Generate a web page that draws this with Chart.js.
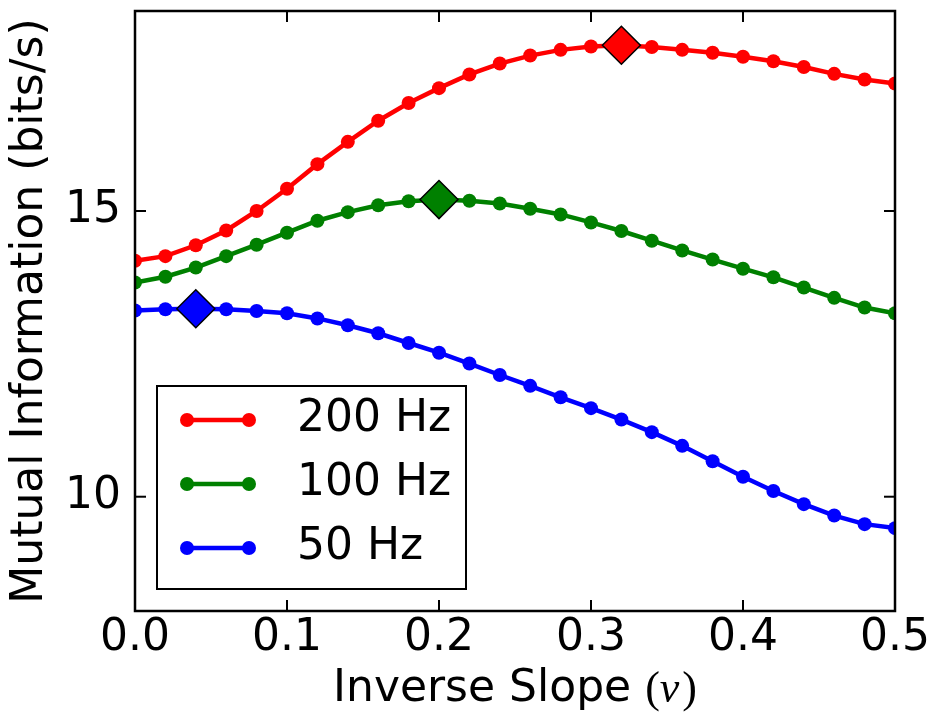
<!DOCTYPE html>
<html>
<head>
<meta charset="utf-8">
<title>Mutual Information vs Inverse Slope</title>
<script src="https://cdn.jsdelivr.net/npm/chart.js@4/dist/chart.umd.min.js"></script>
<style>
  html, body { margin: 0; padding: 0; background: #fff; }
</style>
</head>
<body>
<canvas id="myChart" width="932" height="723"></canvas>
<script>
'use strict';
//Data
const inverseSlope = [0, 0.02, 0.04, 0.06, 0.08, 0.1, 0.12, 0.14, 0.16, 0.18, 0.2, 0.22, 0.24,
  0.26, 0.28, 0.3, 0.32, 0.34, 0.36, 0.38, 0.4, 0.42, 0.44, 0.46, 0.48, 0.5];
const info200 = [14.13, 14.21, 14.40, 14.66, 15.00, 15.39, 15.82, 16.21, 16.58, 16.89, 17.15, 17.39, 17.58,
  17.72, 17.82, 17.88, 17.90, 17.87, 17.82, 17.77, 17.70, 17.62, 17.52, 17.40, 17.30, 17.23];
const info100 = [13.75, 13.85, 14.01, 14.21, 14.41, 14.62, 14.83, 14.98, 15.10, 15.17, 15.20, 15.18, 15.13,
  15.04, 14.94, 14.80, 14.65, 14.48, 14.31, 14.15, 13.99, 13.84, 13.66, 13.48, 13.31, 13.21];
const info50 = [13.26, 13.28, 13.29, 13.28, 13.25, 13.21, 13.12, 13.00, 12.86, 12.69, 12.52, 12.33, 12.13,
  11.94, 11.74, 11.55, 11.35, 11.13, 10.89, 10.62, 10.35, 10.10, 9.87, 9.67, 9.52, 9.45];
const seriesNames = ['200 Hz', '100 Hz', '50 Hz'];
const peakSlopes = [0.32, 0.20, 0.04];
const xTicks = [0, 0.1, 0.2, 0.3, 0.4, 0.5];
const yTicks = [10, 15];
const xTitle = 'Inverse Slope ';
const xSymbol = 'ν';
const yTitle = 'Mutual Information (bits/s)';

//Styles
const colors = ['#ff0000', '#008000', '#0000ff'];
const fontFamily = 'DejaVu Sans';
const fontSize = 44;
const lineWidth = 4.5;
const dotRadius = 7;
const ctx_myChart = document.getElementById('myChart').getContext('2d');

//Helpers
function isPeak(ctx){
  if (ctx.type !== 'data') return false;
  return Math.abs(inverseSlope[ctx.dataIndex] - peakSlopes[ctx.datasetIndex]) < 1e-9;
}

function makeDataset(name, values, color){
  return {
    label: name,
    data: values.map((v, i) => ({x: inverseSlope[i], y: v})),
    borderColor: color,
    backgroundColor: color,
    borderWidth: lineWidth,
    pointStyle: (ctx) => isPeak(ctx) ? 'rectRot' : 'circle',
    pointRadius: (ctx) => isPeak(ctx) ? 19 : dotRadius,
    pointBorderWidth: (ctx) => isPeak(ctx) ? 1.5 : 0,
    pointBorderColor: (ctx) => isPeak(ctx) ? '#000' : color,
    pointBackgroundColor: color,
    tension: 0,
    clip: 0
  };
}

function line(ctx, x1, y1, x2, y2){
  ctx.beginPath();
  ctx.moveTo(x1, y1);
  ctx.lineTo(x2, y2);
  ctx.stroke();
}

//Plugins
// frame with inward ticks on all four sides, like matplotlib classic
const framePlugin = {
  id: 'frame',
  afterDatasetsDraw(chart){
    const ctx = chart.ctx;
    const ca = chart.chartArea;
    const xs = chart.scales.x;
    const ys = chart.scales.y;
    ctx.save();
    ctx.strokeStyle = '#000';
    ctx.lineWidth = 2;
    xTicks.forEach(v => {
      const px = xs.getPixelForValue(v);
      line(ctx, px, ca.bottom, px, ca.bottom - 11);
      line(ctx, px, ca.top, px, ca.top + 11);
    });
    yTicks.forEach(v => {
      const py = ys.getPixelForValue(v);
      line(ctx, ca.left, py, ca.left + 11, py);
      line(ctx, ca.right, py, ca.right - 11, py);
    });
    ctx.lineWidth = 2.5;
    ctx.strokeRect(ca.left, ca.top, ca.right - ca.left, ca.bottom - ca.top);
    ctx.restore();
  }
};

// legend box in the lower left of the plot
const legendPlugin = {
  id: 'boxLegend',
  afterDraw(chart){
    const ctx = chart.ctx;
    const ca = chart.chartArea;
    const bx = ca.left + 22;
    const by = 386;
    ctx.save();
    ctx.fillStyle = '#fff';
    ctx.fillRect(bx, by, 309, 203);
    ctx.strokeStyle = '#000';
    ctx.lineWidth = 2;
    ctx.strokeRect(bx, by, 309, 203);
    seriesNames.forEach((name, i) => {
      const y = by + 34 + i * 64;
      ctx.strokeStyle = colors[i];
      ctx.fillStyle = colors[i];
      ctx.lineWidth = lineWidth;
      line(ctx, bx + 30, y, bx + 92, y);
      [bx + 30, bx + 92].forEach(cx => {
        ctx.beginPath();
        ctx.arc(cx, y, dotRadius, 0, Math.PI * 2);
        ctx.fill();
      });
      ctx.fillStyle = '#000';
      ctx.font = fontSize + 'px "' + fontFamily + '"';
      ctx.textAlign = 'left';
      ctx.textBaseline = 'middle';
      ctx.fillText(name, bx + 140, y);
    });
    ctx.restore();
  }
};

// axis titles, the nu is set in an italic serif like mathtext
const titlePlugin = {
  id: 'axisTitles',
  afterDraw(chart){
    const ctx = chart.ctx;
    const ca = chart.chartArea;
    ctx.save();
    ctx.fillStyle = '#000';
    ctx.textBaseline = 'middle';
    const sans = fontSize + 'px "' + fontFamily + '"';
    const serif = fontSize + 'px "Liberation Serif"';
    const serifIt = 'italic ' + fontSize + 'px "Liberation Serif"';
    ctx.font = sans;
    const w1 = ctx.measureText(xTitle).width;
    ctx.font = serif;
    const wp = ctx.measureText('(').width;
    const wq = ctx.measureText(')').width;
    ctx.font = serifIt;
    const wn = ctx.measureText(xSymbol).width + 3;
    let x = (ca.left + ca.right) / 2 - (w1 + wp + wn + wq) / 2;
    const y = 690;
    ctx.textAlign = 'left';
    ctx.font = sans;
    ctx.fillText(xTitle, x, y);
    x += w1;
    ctx.font = serif;
    ctx.fillText('(', x, y);
    x += wp;
    ctx.font = serifIt;
    ctx.fillText(xSymbol, x, y);
    x += wn;
    ctx.font = serif;
    ctx.fillText(')', x, y);

    ctx.translate(31, (ca.top + ca.bottom) / 2);
    ctx.rotate(-Math.PI / 2);
    ctx.textAlign = 'center';
    ctx.font = sans;
    ctx.fillText(yTitle, 0, 0);
    ctx.restore();
  }
};

//Chart
const chart = new Chart(ctx_myChart, {
  type: 'line',
  data: {
    datasets: [
      makeDataset(seriesNames[0], info200, colors[0]),
      makeDataset(seriesNames[1], info100, colors[1]),
      makeDataset(seriesNames[2], info50, colors[2])
    ]
  },
  options: {
    responsive: false,
    animation: false,
    layout: {padding: {left: 0, top: 11, right: 37, bottom: 0}},
    plugins: {
      legend: {display: false},
      tooltip: {enabled: false}
    },
    scales: {
      x: {
        type: 'linear',
        min: 0,
        max: 0.5,
        grid: {display: false, drawTicks: false},
        border: {display: false},
        afterBuildTicks: (scale) => { scale.ticks = xTicks.map(v => ({value: v})); },
        afterFit: (scale) => {
          scale.height = 112;
          scale.paddingLeft = 0;
          scale.paddingRight = 0;
        },
        ticks: {
          autoSkip: false,
          maxRotation: 0,
          padding: 1,
          color: '#000',
          font: {family: fontFamily, size: fontSize},
          callback: (v) => Number(v).toFixed(1)
        }
      },
      y: {
        type: 'linear',
        min: 8,
        max: 18.5,
        grid: {display: false, drawTicks: false},
        border: {display: false},
        afterBuildTicks: (scale) => { scale.ticks = yTicks.map(v => ({value: v})); },
        afterFit: (scale) => {
          scale.width = 135;
          scale.paddingTop = 0;
          scale.paddingBottom = 0;
        },
        ticks: {
          padding: 14,
          color: '#000',
          font: {family: fontFamily, size: fontSize},
          callback: (v) => String(v)
        }
      }
    }
  },
  plugins: [framePlugin, legendPlugin, titlePlugin]
});
</script>
</body>
</html>
